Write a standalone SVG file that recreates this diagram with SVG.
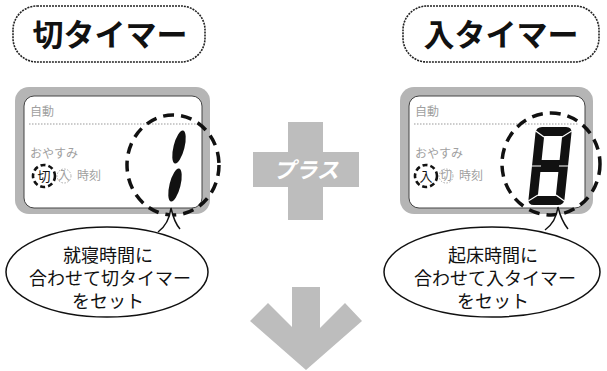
<svg xmlns="http://www.w3.org/2000/svg" width="607" height="371" viewBox="0 0 607 371">
<style>
.title{fill:#fff;stroke:#222;stroke-width:1.6;stroke-dasharray:2 1}
.ttext{font-family:"Noto Sans CJK JP","Noto Sans",sans-serif;font-weight:bold;font-size:31px;fill:#111;text-anchor:middle}
.outer{fill:#b5b5b5}
.inner{fill:#fff;stroke:#444;stroke-width:1}
.dash{fill:none;stroke:#111;stroke-width:3.5;stroke-dasharray:11 7}
.sdash{fill:none;stroke:#111;stroke-width:2.6;stroke-dasharray:5 3}
.gray{font-family:"Noto Sans CJK JP",sans-serif;fill:#a0a0a0;font-size:12px}
.dotline{stroke:#999;stroke-width:1.2;stroke-dasharray:1.5 1.5}
.bubble{fill:#fff;stroke:#111;stroke-width:1.5}
.btext{font-family:"Noto Sans CJK JP","Noto Sans",sans-serif;font-size:18px;fill:#111;text-anchor:middle}
.shape{fill:#bdbdbd}
</style>

<g id="title-left">
<rect class="title" x="13" y="6" width="192" height="56" rx="24"/>
<text class="ttext" x="110" y="46">切タイマー</text>
</g>
<g id="title-right">
<rect class="title" x="403" y="6" width="196" height="56" rx="24"/>
<text class="ttext" x="501" y="46">入タイマー</text>
</g>

<g id="panel-left">
<rect class="outer" x="15" y="87" width="195" height="127" rx="14"/>
<rect class="inner" x="24" y="96" width="178" height="112" rx="10"/>
<text class="gray" x="30" y="116">自動</text>
<line class="dotline" x1="29" y1="124" x2="196" y2="124"/>
<text class="gray" x="30" y="158" font-size="11">おやすみ</text>
<circle class="sdash" cx="44" cy="176" r="11"/>
<text x="44" y="181" font-family="Noto Sans CJK JP,sans-serif" font-size="13" text-anchor="middle" fill="#111">切</text>
<ellipse cx="64" cy="176" rx="7" ry="7" fill="none" stroke="#aaa" stroke-width="1" stroke-dasharray="1.5 1.5"/>
<text class="gray" x="64" y="180" font-size="10" text-anchor="middle">入</text>
<text class="gray" x="77" y="180" font-size="11">時刻</text>
<ellipse class="dash" cx="173" cy="165" rx="46" ry="50"/>
<ellipse cx="179" cy="147" rx="5.5" ry="17" transform="rotate(14 179 147)" fill="#111"/>
<ellipse cx="175" cy="185" rx="5.5" ry="17" transform="rotate(14 175 185)" fill="#111"/>
</g>

<g id="panel-right">
<rect class="outer" x="400" y="87" width="193" height="127" rx="14"/>
<rect class="inner" x="409" y="96" width="176" height="112" rx="10"/>
<text class="gray" x="415" y="116">自動</text>
<line class="dotline" x1="414" y1="124" x2="578" y2="124"/>
<text class="gray" x="415" y="158" font-size="11">おやすみ</text>
<circle class="sdash" cx="426" cy="176" r="11"/>
<text x="426" y="181" font-family="Noto Sans CJK JP,sans-serif" font-size="13" text-anchor="middle" fill="#111">入</text>
<ellipse cx="446" cy="176" rx="7" ry="7" fill="none" stroke="#aaa" stroke-width="1" stroke-dasharray="1.5 1.5"/>
<text class="gray" x="446" y="180" font-size="10" text-anchor="middle">切</text>
<text class="gray" x="459" y="180" font-size="11">時刻</text>
<ellipse class="dash" cx="551" cy="164" rx="49" ry="51"/>
<g transform="translate(550 166) skewX(-6) translate(-550 -166)">
<path fill="#111" fill-rule="evenodd" d="M538 127 H562 Q568 127 568 133 V199 Q568 205 562 205 H538 Q532 205 532 199 V133 Q532 127 538 127 Z M541 136 V160 H559 V136 Z M541 172 V196 H559 V172 Z"/>
<g stroke="#fff" stroke-width="1.2">
<line x1="532" y1="131" x2="541" y2="137"/><line x1="568" y1="131" x2="559" y2="137"/>
<line x1="532" y1="166" x2="541" y2="166"/><line x1="559" y1="166" x2="568" y2="166"/>
<line x1="532" y1="201" x2="541" y2="195"/><line x1="568" y1="201" x2="559" y2="195"/>
</g>
</g>
</g>

<g id="plus">
<path class="shape" d="M288 122 H323 V152 H359 V187 H323 V220 H288 V187 H253 V152 H288 Z"/>
<text x="306" y="178" font-family="Noto Sans CJK JP,sans-serif" font-size="22" font-weight="bold" font-style="italic" fill="#fff" text-anchor="middle">プラス</text>
</g>

<g id="arrow">
<path class="shape" d="M292 287 H320 V328 L345 303 L362 321 L306 370 L250 321 L268 303 L292 327 Z"/>
</g>

<g id="callout-left">
<ellipse class="bubble" cx="107" cy="272" rx="101" ry="45"/>
<path class="bubble" d="M158 232 Q169 224 171 208 Q174 222 180 229"/>
<text class="btext" x="108" y="262">就寝時間に</text>
<text class="btext" x="110" y="285">合わせて切タイマー</text>
<text class="btext" x="108" y="308">をセット</text>
</g>

<g id="callout-right">
<ellipse class="bubble" cx="492" cy="272" rx="108" ry="45"/>
<path class="bubble" d="M545 230 Q556 222 558 207 Q561 220 568 229"/>
<text class="btext" x="493" y="262">起床時間に</text>
<text class="btext" x="495" y="285">合わせて入タイマー</text>
<text class="btext" x="493" y="308">をセット</text>
</g>

<g id="connectors"></g>
</svg>
